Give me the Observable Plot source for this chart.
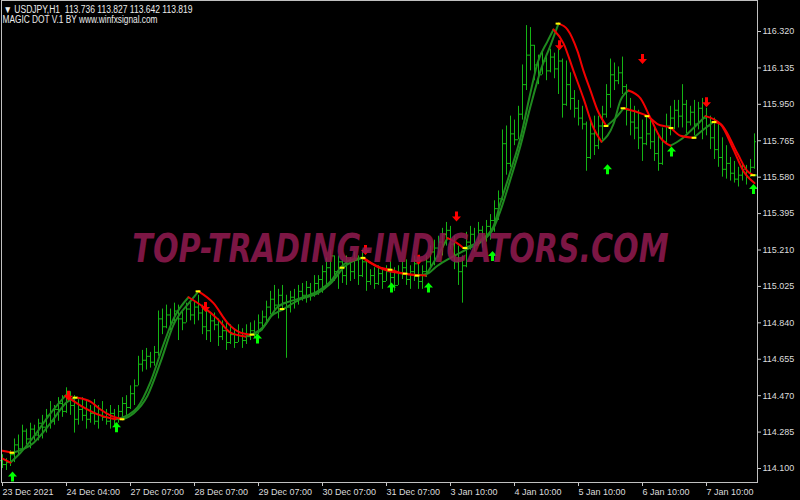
<!DOCTYPE html>
<html>
<head>
<meta charset="utf-8">
<script src="https://cdn.jsdelivr.net/npm/d3@7"></script>
<script src="https://cdn.jsdelivr.net/npm/@observablehq/plot@0.6"></script>
<style>
  html, body { margin: 0; padding: 0; background: #000; }
  #chart { width: 800px; height: 500px; }
</style>
</head>
<body>
<div id="chart"></div>
<script>
// ---------- texts ----------
const headerLine1 = "\u25BC USDJPY,H1\u00a0\u00a0113.736 113.827 113.642 113.819";
const headerLine2 = "MAGIC DOT V.1 BY www.winfxsignal.com";
const watermark = "TOP-TRADING-INDICATORS.COM";

// ---------- H1 OHLC bars (bar index 0..188) ----------
const barHigh = [
114.17,114.15,114.19,114.25,114.27,114.32,114.30,114.33,114.32,114.35,
114.37,114.40,114.44,114.42,114.46,114.47,114.51,114.49,114.47,114.45,
114.46,114.44,114.42,114.45,114.42,114.44,114.40,114.42,114.40,114.42,
114.46,114.47,114.52,114.55,114.67,114.70,114.71,114.69,114.72,114.90,
114.91,114.93,114.91,114.94,114.93,114.90,114.94,114.95,114.95,114.98,
114.93,114.90,114.88,114.89,114.86,114.85,114.84,114.83,114.81,114.83,
114.81,114.83,114.84,114.85,114.88,114.90,114.95,115.00,115.03,115.01,
115.03,114.98,115.00,115.01,115.03,115.04,115.05,115.04,115.08,115.08,
115.13,115.17,115.21,115.18,115.18,115.16,115.18,115.17,115.20,115.18,
115.21,115.16,115.11,115.12,115.13,115.12,115.13,115.15,115.12,115.13,
115.15,115.16,115.13,115.18,115.15,115.13,115.18,115.23,115.26,115.28,
115.32,115.35,115.33,115.28,115.23,115.18,115.30,115.33,115.32,115.35,
115.33,115.36,115.39,115.46,115.51,115.82,115.84,115.89,115.87,115.94,
116.15,116.35,116.34,116.25,116.20,116.22,116.20,116.23,116.21,116.26,
116.18,116.17,116.11,116.02,115.97,115.94,115.86,115.87,115.89,115.89,
115.94,116.05,116.18,116.16,116.14,116.19,116.05,115.98,115.94,115.92,
115.87,115.89,115.88,115.84,115.80,115.83,115.90,115.94,115.97,115.97,
116.05,115.97,115.94,115.97,115.96,115.98,115.93,115.89,115.88,115.85,
115.78,115.74,115.68,115.66,115.63,115.65,115.64,115.67,115.80];
const barLow = [
114.10,114.09,114.11,114.13,114.17,114.19,114.22,114.20,114.24,114.24,
114.25,114.28,114.30,114.32,114.34,114.36,114.38,114.37,114.28,114.32,
114.34,114.30,114.33,114.32,114.30,114.34,114.32,114.30,114.31,114.33,
114.36,114.37,114.40,114.42,114.52,114.59,114.60,114.61,114.62,114.67,
114.78,114.81,114.80,114.83,114.75,114.80,114.84,114.85,114.83,114.85,
114.78,114.75,114.74,114.80,114.72,114.75,114.70,114.73,114.71,114.74,
114.71,114.73,114.75,114.76,114.78,114.80,114.84,114.88,114.89,114.86,
114.90,114.66,114.89,114.91,114.93,114.95,114.94,114.95,114.97,114.98,
114.99,115.03,115.05,115.05,115.01,115.04,115.03,115.05,115.06,115.03,
115.07,115.00,115.03,115.01,115.03,115.01,115.05,115.03,115.00,115.03,
115.06,115.03,115.01,115.05,115.01,115.01,115.07,115.11,115.13,115.17,
115.18,115.23,115.21,115.11,115.03,114.94,115.12,115.21,115.20,115.23,
115.22,115.25,115.26,115.30,115.36,115.46,115.59,115.63,115.74,115.77,
115.87,116.02,116.12,116.07,116.05,116.10,116.07,116.11,116.08,116.00,
115.88,115.94,115.92,115.88,115.84,115.82,115.61,115.67,115.69,115.72,
115.77,115.88,115.93,116.02,116.05,116.00,115.84,115.79,115.77,115.72,
115.66,115.74,115.72,115.66,115.61,115.64,115.75,115.79,115.82,115.83,
115.83,115.80,115.84,115.79,115.82,115.77,115.79,115.72,115.67,115.63,
115.58,115.57,115.56,115.55,115.53,115.56,115.54,115.58,115.62];
const barOpen = [
114.14,114.12,114.13,114.17,114.22,114.20,114.29,114.25,114.30,114.27,
114.33,114.31,114.37,114.34,114.40,114.43,114.39,114.46,114.42,114.35,
114.40,114.37,114.35,114.38,114.34,114.37,114.36,114.34,114.38,114.33,
114.39,114.43,114.41,114.48,114.52,114.63,114.65,114.67,114.64,114.69,
114.86,114.82,114.88,114.84,114.90,114.86,114.84,114.91,114.88,114.92,
114.89,114.82,114.80,114.85,114.83,114.77,114.80,114.74,114.78,114.74,
114.79,114.75,114.77,114.80,114.78,114.84,114.87,114.92,114.96,114.93,
114.98,114.94,114.92,114.97,114.95,115.00,114.98,115.02,114.99,115.04,
115.06,115.10,115.12,115.18,115.10,115.15,115.08,115.14,115.10,115.16,
115.08,115.15,115.05,115.08,115.04,115.09,115.05,115.10,115.07,115.03,
115.09,115.12,115.06,115.10,115.14,115.05,115.10,115.15,115.20,115.22,
115.25,115.29,115.31,115.24,115.15,115.10,115.13,115.25,115.29,115.24,
115.31,115.27,115.33,115.36,115.42,115.47,115.75,115.65,115.80,115.77,
115.90,116.05,116.20,116.25,116.15,116.10,116.17,116.12,116.19,116.13,
116.17,115.95,116.05,115.98,115.93,115.88,115.85,115.68,115.80,115.74,
115.84,115.90,116.00,116.10,116.07,116.11,116.04,115.92,115.86,115.83,
115.78,115.75,115.80,115.76,115.70,115.65,115.76,115.84,115.88,115.92,
115.89,115.95,115.86,115.91,115.85,115.93,115.88,115.84,115.78,115.72,
115.68,115.62,115.65,115.60,115.57,115.59,115.62,115.58,115.63];
const barClose = [
114.12,114.13,114.17,114.22,114.20,114.29,114.25,114.30,114.27,114.33,
114.31,114.37,114.34,114.40,114.43,114.39,114.46,114.42,114.35,114.40,
114.37,114.35,114.38,114.34,114.37,114.36,114.34,114.38,114.33,114.39,
114.43,114.41,114.48,114.52,114.63,114.65,114.67,114.64,114.69,114.86,
114.82,114.88,114.84,114.90,114.86,114.84,114.91,114.88,114.92,114.89,
114.82,114.80,114.85,114.83,114.77,114.80,114.74,114.78,114.74,114.79,
114.75,114.77,114.80,114.78,114.84,114.87,114.92,114.96,114.93,114.98,
114.94,114.92,114.97,114.95,115.00,114.98,115.02,114.99,115.04,115.06,
115.10,115.12,115.18,115.10,115.15,115.08,115.14,115.10,115.16,115.08,
115.15,115.05,115.08,115.04,115.09,115.05,115.10,115.07,115.03,115.09,
115.12,115.06,115.10,115.14,115.05,115.10,115.15,115.20,115.22,115.25,
115.29,115.31,115.24,115.15,115.10,115.13,115.25,115.29,115.24,115.31,
115.27,115.33,115.36,115.42,115.47,115.75,115.65,115.80,115.77,115.90,
116.05,116.20,116.25,116.15,116.10,116.17,116.12,116.19,116.13,116.17,
115.95,116.05,115.98,115.93,115.88,115.85,115.68,115.80,115.74,115.84,
115.90,116.00,116.10,116.07,116.11,116.04,115.92,115.86,115.83,115.78,
115.75,115.80,115.76,115.70,115.65,115.76,115.84,115.88,115.92,115.89,
115.95,115.86,115.91,115.85,115.93,115.88,115.84,115.78,115.72,115.68,
115.62,115.65,115.60,115.57,115.59,115.62,115.58,115.63,115.76];

// ---------- Magic Dot lines (bar index, price) ----------
const fastIdx = [0,2,4.5,7.75,12,15.75,19.5,24.5,28.25,31.25,33.75,37,40.25,42.75,46.5,50.25,53.75,57,60.75,63.25,65.25,68.75,72,75.25,78.75,82,84.5,87,90,93.25,97,100.75,105.75,108.75,111.25,113.25,115.25,119.5,122.75,124.5,127,129.5,132,133.75,136.25,137.75,140.25,142.75,145.25,147.75,149.75,152.75,154.5,156.5,159.5,162,164.5,167,169.5,172.75,175.75,179.5,182.75,185.25,188];
const fastVal = [114.15,114.13,114.18,114.26,114.38,114.47,114.42,114.37,114.35,114.37,114.41,114.54,114.73,114.86,114.97,114.92,114.86,114.79,114.77,114.79,114.82,114.92,114.95,114.97,115.00,115.05,115.12,115.16,115.17,115.13,115.10,115.09,115.08,115.18,115.27,115.25,115.22,115.26,115.33,115.45,115.61,115.78,116.01,116.16,116.27,116.33,116.26,116.12,115.98,115.83,115.76,115.85,115.97,116.02,115.98,115.88,115.78,115.74,115.77,115.83,115.89,115.85,115.72,115.61,115.55];
const slowIdx = [0,2.5,7.75,12,16.25,18.75,22,24.5,27,30,32.75,36.25,39.5,42.75,47,49,52.75,56.25,59.5,62,64.5,67,70.25,74.5,78.75,82,85.75,90.25,94.5,97,100.25,103.75,106.25,108.75,112,115.75,119.5,122.75,124.5,127,129.5,132,134.5,137,139,141.25,143.75,145.25,147,148.75,151,153.25,155.25,158.75,161.25,163.75,167,169.5,172.75,175.75,177.75,179.5,183.75,186.25,187.75,188.5];
const slowVal = [114.19,114.18,114.23,114.33,114.44,114.46,114.44,114.40,114.37,114.35,114.38,114.47,114.64,114.83,114.95,115.00,114.94,114.84,114.79,114.78,114.80,114.87,114.91,114.96,114.99,115.04,115.13,115.17,115.12,115.11,115.09,115.08,115.09,115.13,115.17,115.21,115.25,115.32,115.41,115.57,115.74,115.94,116.12,116.25,116.36,116.33,116.22,116.12,116.02,115.92,115.84,115.88,115.93,115.91,115.89,115.85,115.83,115.79,115.78,115.83,115.86,115.85,115.70,115.61,115.59,115.59];

// yellow dots
const dotIdx = [2.5,18.25,30,49,62.5,70,85,90.25,97,100.75,103.75,115.75,139,151,155.25,161.25,167.25,173,178,187.75];
const dotVal = [114.18,114.46,114.35,115.00,114.78,114.91,115.12,115.17,115.11,115.09,115.08,115.22,116.36,115.84,115.93,115.89,115.83,115.78,115.86,115.59];

// arrows
const upIdx = [2.5,28.5,63.75,97.25,106.5,122.5,151.25,167.25,187.75];
const upVal = [114.06,114.31,114.76,115.02,115.02,115.18,115.62,115.71,115.52];
const downIdx = [16.5,50.75,90.75,104,113.5,139.25,160,176];
const downVal = [114.47,114.92,115.21,115.16,115.38,116.25,116.18,115.96];

// axes
const yTicks = [114.100,114.285,114.470,114.655,114.840,115.025,115.210,115.395,115.580,115.765,115.950,116.135,116.320];
const xTickIdx = [0,16,32,48,64,80,96,112,128,144,160,176];
const xTickLabels = ["23 Dec 2021","24 Dec 04:00","27 Dec 07:00","28 Dec 07:00","29 Dec 07:00","30 Dec 07:00","31 Dec 07:00","3 Jan 10:00","4 Jan 10:00","5 Jan 10:00","6 Jan 10:00","7 Jan 10:00"];

// ---------- build tables ----------
const bars = barHigh.map((h, i) => ({i, high: h, low: barLow[i], open: barOpen[i], close: barClose[i]}));

function runs(idx, val, name) {
  const rows = [];
  const dir = k => val[k + 1] < val[k] ? "down" : "up";
  let start = 0, id = 0;
  for (let k = 0; k < idx.length - 1; k++) {
    if (k === idx.length - 2 || dir(k + 1) !== dir(k)) {
      for (let j = start; j <= k + 1; j++) rows.push({i: idx[j], v: val[j], run: name + id, dir: dir(k)});
      id++; start = k + 1;
    }
  }
  return rows;
}
const lineRows = runs(fastIdx, fastVal, "f").concat(runs(slowIdx, slowVal, "s"));
const dots = dotIdx.map((i, k) => ({i, v: dotVal[k]}));
const ups = upIdx.map((i, k) => ({i, v: upVal[k]}));
const downs = downIdx.map((i, k) => ({i, v: downVal[k]}));

const arrowUp = {draw(ctx, size) {
  const r = Math.sqrt(size / Math.PI) / 5;
  ctx.moveTo(0, -5 * r); ctx.lineTo(4.5 * r, 0); ctx.lineTo(1.5 * r, 0); ctx.lineTo(1.5 * r, 5 * r);
  ctx.lineTo(-1.5 * r, 5 * r); ctx.lineTo(-1.5 * r, 0); ctx.lineTo(-4.5 * r, 0); ctx.closePath();
}};
const arrowDown = {draw(ctx, size) {
  const r = Math.sqrt(size / Math.PI) / 5;
  ctx.moveTo(0, 5 * r); ctx.lineTo(4.5 * r, 0); ctx.lineTo(1.5 * r, 0); ctx.lineTo(1.5 * r, -5 * r);
  ctx.lineTo(-1.5 * r, -5 * r); ctx.lineTo(-1.5 * r, 0); ctx.lineTo(-4.5 * r, 0); ctx.closePath();
}};

const barColor = "#14b414";
const upLine = "#1f8a1f";
const downLine = "#f20000";
const wmSize = 28;

const svg = Plot.plot({
  width: 800,
  height: 500,
  marginLeft: 1,
  marginRight: 43,
  marginTop: 0,
  marginBottom: 18,
  style: {background: "#000", color: "#dcdcdc", fontFamily: "'Liberation Sans', Arial, sans-serif", fontSize: "9px"},
  x: {domain: [-0.25, 188.75], axis: null},
  y: {domain: [114.0289, 116.4775], axis: null},
  marks: [
    Plot.ruleX(bars, {x: "i", y1: "low", y2: "high", stroke: barColor, strokeWidth: 1}),
    Plot.ruleY(bars, {y: "open", x1: d => d.i - 0.5, x2: "i", stroke: barColor, strokeWidth: 1}),
    Plot.ruleY(bars, {y: "close", x1: "i", x2: d => d.i + 0.5, stroke: barColor, strokeWidth: 1}),
    Plot.line(lineRows.filter(d => d.dir === "up"), {x: "i", y: "v", z: "run", stroke: upLine, strokeWidth: 2, curve: "monotone-x"}),
    Plot.line(lineRows.filter(d => d.dir === "down"), {x: "i", y: "v", z: "run", stroke: downLine, strokeWidth: 2, curve: "monotone-x"}),
    Plot.ruleY(dots, {y: "v", x1: d => d.i - 0.6, x2: d => d.i + 0.6, stroke: "#ffff00", strokeWidth: 2}),
    Plot.dot(ups, {x: "i", y: "v", symbol: arrowUp, r: 5, fill: "#00ff00", stroke: "none"}),
    Plot.dot(downs, {x: "i", y: "v", symbol: arrowDown, r: 5, fill: "#ff0000", stroke: "none"}),
    Plot.text([watermark], {text: d => d, frameAnchor: "middle", dx: 21, dy: 12, fontSize: wmSize, fontWeight: "bold", fontStyle: "italic", fontFamily: "'DejaVu Sans', sans-serif", fill: "#8e1a4e", fillOpacity: 0.88}),
    Plot.text([headerLine1], {text: d => d, frameAnchor: "top-left", textAnchor: "start", lineAnchor: "middle", dx: 2, dy: 9, fill: "#ececec", fontSize: 10}),
    Plot.text([headerLine2], {text: d => d, frameAnchor: "top-left", textAnchor: "start", lineAnchor: "middle", dx: 1, dy: 19, fill: "#ececec", fontSize: 10}),
    Plot.axisY({anchor: "right", ticks: yTicks, tickFormat: d3.format(".3f"), tickSize: 3, tickPadding: 2, label: null, stroke: "#c8c8c8"}),
    Plot.axisX({anchor: "bottom", ticks: xTickIdx, tickFormat: d => xTickLabels[xTickIdx.indexOf(d)], tickSize: 4, tickPadding: 2, textAnchor: "start", label: null, stroke: "#c8c8c8"}),
    Plot.frame({stroke: "#c0c0c0"})
  ]
});

svg.querySelectorAll("text").forEach(t => {
  const s = t.textContent;
  if (s === headerLine1) { t.setAttribute("textLength", 189); t.setAttribute("lengthAdjust", "spacingAndGlyphs"); }
  if (s === headerLine2) { t.setAttribute("textLength", 155); t.setAttribute("lengthAdjust", "spacingAndGlyphs"); }
  if (s === watermark) {
    // stretch the watermark to the reference's tall, wide lettering (scale about its baseline centre)
    let cx = 379, cy = 241;
    const tl = t.transform && t.transform.baseVal;
    const m = tl && tl.numberOfItems ? tl.consolidate() : null;
    if (m) { cx = m.matrix.e; cy = m.matrix.f; }
    else { if (t.getAttribute("x")) cx = +t.getAttribute("x"); if (t.getAttribute("y")) cy = +t.getAttribute("y"); }
    const base = cy + 0.32 * wmSize;
    const wrap = document.createElementNS("http://www.w3.org/2000/svg", "g");
    t.parentNode.insertBefore(wrap, t);
    wrap.appendChild(t);
    wrap.setAttribute("transform", `translate(${cx} ${base}) scale(1.075 1.37) translate(${-cx} ${-base})`);
  }
});

document.getElementById("chart").appendChild(svg);
</script>
</body>
</html>
